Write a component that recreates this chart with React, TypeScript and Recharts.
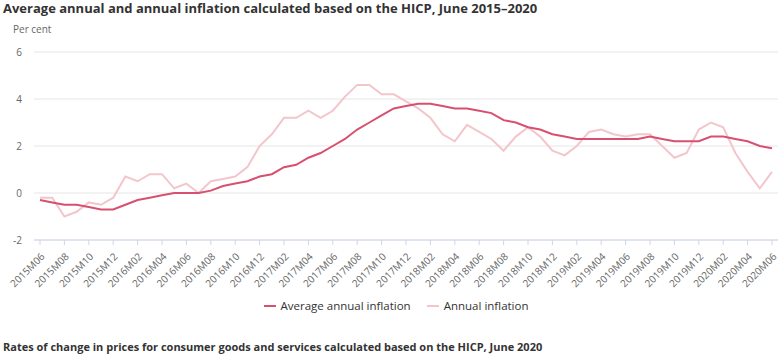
import React from "react";
import { LineChart, Line, XAxis, YAxis, CartesianGrid, Legend } from "recharts";

const months: string[] = [];
for (let y = 2015; y <= 2020; y++) {
  for (let m = 1; m <= 12; m++) {
    if ((y === 2015 && m < 6) || (y === 2020 && m > 6)) continue;
    months.push(`${y}M${m < 10 ? "0" + m : m}`);
  }
}

const averageAnnual = [
  -0.3, -0.4, -0.5, -0.5, -0.6, -0.7, -0.7,
  -0.5, -0.3, -0.2, -0.1, 0.0, 0.0, 0.0, 0.1, 0.3, 0.4, 0.5, 0.7,
  0.8, 1.1, 1.2, 1.5, 1.7, 2.0, 2.3, 2.7, 3.0, 3.3, 3.6, 3.7,
  3.8, 3.8, 3.7, 3.6, 3.6, 3.5, 3.4, 3.1, 3.0, 2.8, 2.7, 2.5,
  2.4, 2.3, 2.3, 2.3, 2.3, 2.3, 2.3, 2.4, 2.3, 2.2, 2.2, 2.2,
  2.4, 2.4, 2.3, 2.2, 2.0, 1.9,
];

const annual = [
  -0.2, -0.2, -1.0, -0.8, -0.4, -0.5, -0.2,
  0.7, 0.5, 0.8, 0.8, 0.2, 0.4, 0.0, 0.5, 0.6, 0.7, 1.1, 2.0,
  2.5, 3.2, 3.2, 3.5, 3.2, 3.5, 4.1, 4.6, 4.6, 4.2, 4.2, 3.9,
  3.6, 3.2, 2.5, 2.2, 2.9, 2.6, 2.3, 1.8, 2.4, 2.8, 2.4, 1.8,
  1.6, 2.0, 2.6, 2.7, 2.5, 2.4, 2.5, 2.5, 2.0, 1.5, 1.7, 2.7,
  3.0, 2.8, 1.7, 0.9, 0.2, 0.9,
];

const yTicks = [-2, 0, 2, 4, 6];

const data = months.map((m, i) => ({
  month: m,
  avg: averageAnnual[i],
  annual: annual[i],
}));

const FONT = "'Open Sans', 'Noto Sans', sans-serif";
const AVG_COLOR = "#d8506f";
const ANN_COLOR = "#f2c6cb";

const XTick = (props: any) => {
  const { x, y, payload } = props;
  const ax = x - 1;
  const ay = y + 4;
  return (
    <text
      x={ax}
      y={ay}
      transform={`rotate(-45 ${ax} ${ay})`}
      textAnchor="end"
      dominantBaseline="hanging"
      fontSize={10}
      fill="#666666"
      fontFamily={FONT}
    >
      {payload.value}
    </text>
  );
};

const LegendContent = () => (
  <div
    style={{
      display: "flex",
      justifyContent: "center",
      fontFamily: FONT,
      fontSize: 11.5,
      color: "#333333",
      paddingLeft: 14,
      paddingTop: 2,
    }}
  >
    <span style={{ display: "flex", alignItems: "center", marginRight: 16 }}>
      <span style={{ display: "inline-block", width: 12, height: 2, background: AVG_COLOR, marginRight: 5 }} />
      Average annual inflation
    </span>
    <span style={{ display: "flex", alignItems: "center" }}>
      <span style={{ display: "inline-block", width: 12, height: 2, background: ANN_COLOR, marginRight: 5 }} />
      Annual inflation
    </span>
  </div>
);

export default function App() {
  return (
    <div style={{ position: "absolute", left: 0, top: 0, width: 780, height: 359, background: "#fff", fontFamily: FONT }}>
      <div style={{ position: "absolute", left: 3, top: 0, fontSize: 13, fontWeight: 700, color: "#333333", whiteSpace: "nowrap", lineHeight: "16px" }}>
        Average annual and annual inflation calculated based on the HICP, June 2015–2020
      </div>
      <div style={{ position: "absolute", left: 13, top: 22, fontSize: 10, color: "#666666", lineHeight: "14px" }}>
        Per cent
      </div>
      <div style={{ position: "absolute", left: 0, top: 0 }}>
        <LineChart width={780} height={320} data={data} margin={{ top: 52, right: 2, left: 0, bottom: 0 }}>
          <CartesianGrid horizontal vertical={false} stroke="#e6e6e6" />
          <XAxis
            dataKey="month"
            interval={1}
            padding={{ left: 6, right: 6 }}
            height={56}
            tick={<XTick />}
            tickSize={5}
            axisLine={{ stroke: "#ccd6eb" }}
            tickLine={{ stroke: "#ccd6eb" }}
          />
          <YAxis
            domain={[-2, 6]}
            ticks={yTicks}
            width={34}
            axisLine={false}
            tickLine={false}
            tickMargin={6}
            tick={{ fontSize: 10, fill: "#666666", fontFamily: FONT }}
          />
          <Line type="linear" dataKey="annual" stroke={ANN_COLOR} strokeWidth={2} dot={false} isAnimationActive={false} name="Annual inflation" />
          <Line type="linear" dataKey="avg" stroke={AVG_COLOR} strokeWidth={2} dot={false} isAnimationActive={false} name="Average annual inflation" />
          <Legend verticalAlign="bottom" height={24} content={<LegendContent />} />
        </LineChart>
      </div>
      <div style={{ position: "absolute", left: 3, top: 339, fontSize: 11, fontWeight: 700, color: "#333333", whiteSpace: "nowrap", lineHeight: "16px" }}>
        Rates of change in prices for consumer goods and services calculated based on the HICP, June 2020
      </div>
    </div>
  );
}
